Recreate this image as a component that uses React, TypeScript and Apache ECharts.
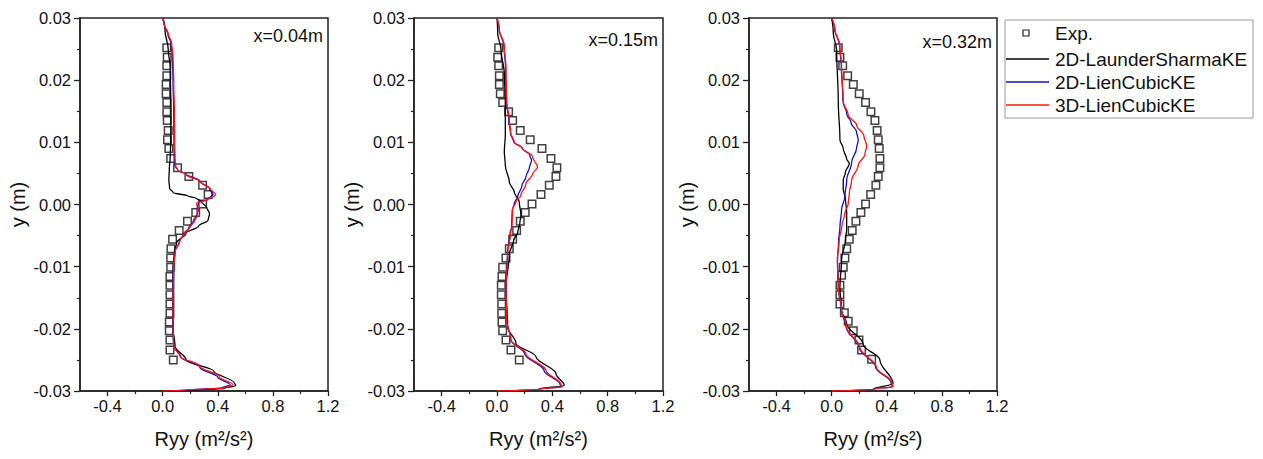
import React, { useEffect, useRef } from "react";
import * as echarts from "echarts";

// ---------- data (x = Ryy, y = y position) ----------
const panelLabels = ["x=0.04m", "x=0.15m", "x=0.32m"];
const seriesNames = ["Exp.", "2D-LaunderSharmaKE", "2D-LienCubicKE", "3D-LienCubicKE"];
const xMajorTicks = [-0.4, 0, 0.4, 0.8, 1.2];
const xMinorTicks = [-0.2, 0.2, 0.6, 1.0];

const exp1 = [
  [0.03, 0.0252], [0.033, 0.0237], [0.03, 0.0223], [0.03, 0.0207], [0.025, 0.0193], [0.025, 0.0178],
  [0.03, 0.0164], [0.03, 0.0149], [0.033, 0.0135], [0.04, 0.0119], [0.035, 0.0104], [0.045, 0.009],
  [0.058, 0.0074], [0.108, 0.0059], [0.19, 0.0045], [0.29, 0.0031], [0.33, 0.0016], [0.29, 0.0001],
  [0.24, -0.0013], [0.18, -0.0027], [0.12, -0.0042], [0.072, -0.0056], [0.06, -0.0071], [0.058, -0.0086],
  [0.058, -0.0101], [0.053, -0.0116], [0.053, -0.013], [0.053, -0.0145], [0.053, -0.016], [0.053, -0.0175],
  [0.048, -0.0189], [0.048, -0.0203], [0.053, -0.0218], [0.053, -0.0234], [0.077, -0.025],
];
const black1 = [
  [0.0, 0.03], [0.017, 0.028], [0.04, 0.025], [0.055, 0.022], [0.06, 0.015], [0.058, 0.01], [0.055, 0.0077],
  [0.048, 0.0056], [0.045, 0.004], [0.05, 0.0026], [0.077, 0.0019], [0.18, 0.0014], [0.245, 0.001],
  [0.28, 0.0005], [0.32, -0.0005], [0.34, -0.0015], [0.33, -0.0025], [0.26, -0.0035], [0.17, -0.0046],
  [0.1, -0.0062], [0.085, -0.0078], [0.075, -0.01], [0.072, -0.015], [0.075, -0.02], [0.09, -0.0228],
  [0.17, -0.025], [0.37, -0.0268], [0.52, -0.0287], [0.53, -0.0291], [0.45, -0.0296], [0.2, -0.0299], [0.0, -0.03],
];
const blue1 = [
  [0.0, 0.03], [0.012, 0.029], [0.04, 0.0272], [0.06, 0.026], [0.07, 0.024], [0.075, 0.02], [0.08, 0.015],
  [0.082, 0.01], [0.085, 0.0072], [0.09, 0.0062], [0.11, 0.0055], [0.17, 0.0049], [0.27, 0.0038],
  [0.34, 0.0025], [0.365, 0.0016], [0.33, 0.0009], [0.26, 0.0003], [0.25, -0.0006], [0.25, -0.0015],
  [0.22, -0.0028], [0.19, -0.0037], [0.15, -0.0048], [0.12, -0.006], [0.09, -0.0076], [0.078, -0.01],
  [0.073, -0.015], [0.073, -0.02], [0.08, -0.0228], [0.13, -0.0245], [0.27, -0.0262], [0.4, -0.0278],
  [0.49, -0.029], [0.43, -0.0295], [0.2, -0.0298], [0.0, -0.03],
];
const red1 = [
  [0.0, 0.03], [0.01, 0.029], [0.04, 0.0275], [0.065, 0.026], [0.075, 0.024], [0.08, 0.02], [0.085, 0.015],
  [0.088, 0.01], [0.09, 0.0072], [0.095, 0.0062], [0.11, 0.0055], [0.17, 0.0048], [0.27, 0.0037],
  [0.35, 0.0024], [0.385, 0.0016], [0.33, 0.0008], [0.245, 0.0002], [0.26, -0.0008], [0.25, -0.0018],
  [0.23, -0.0027], [0.2, -0.0036], [0.16, -0.0046], [0.125, -0.0059], [0.09, -0.0076], [0.08, -0.01],
  [0.075, -0.015], [0.075, -0.02], [0.08, -0.0228], [0.125, -0.0244], [0.27, -0.026], [0.41, -0.0277],
  [0.51, -0.029], [0.45, -0.0295], [0.2, -0.0298], [0.0, -0.03],
];

const exp2 = [
  [0.012, 0.0252], [0.005, 0.0237], [0.012, 0.0223], [0.017, 0.0207], [0.017, 0.0193], [0.024, 0.0178],
  [0.041, 0.0164], [0.084, 0.0149], [0.113, 0.0135], [0.168, 0.0119], [0.24, 0.0104], [0.325, 0.009],
  [0.39, 0.0074], [0.433, 0.0059], [0.426, 0.0045], [0.378, 0.0031], [0.318, 0.0016], [0.253, 0.0001],
  [0.204, -0.0013], [0.168, -0.0027], [0.142, -0.0042], [0.113, -0.0056], [0.089, -0.0071], [0.065, -0.0086],
  [0.041, -0.0101], [0.036, -0.0116], [0.031, -0.013], [0.031, -0.0145], [0.034, -0.016], [0.034, -0.0175],
  [0.036, -0.0189], [0.041, -0.0203], [0.065, -0.0218], [0.101, -0.0234], [0.161, -0.025],
];
const black2 = [
  [0.0, 0.03], [0.005, 0.0275], [0.029, 0.0249], [0.053, 0.021], [0.06, 0.0166], [0.06, 0.0112],
  [0.053, 0.0085], [0.06, 0.0063], [0.089, 0.0036], [0.125, 0.002], [0.161, 0.0004], [0.173, -0.0017],
  [0.165, -0.003], [0.15, -0.0045], [0.12, -0.0058], [0.089, -0.008], [0.065, -0.0133], [0.077, -0.0197],
  [0.137, -0.0223], [0.282, -0.0245], [0.426, -0.0272], [0.486, -0.0291], [0.3, -0.0297], [0.0, -0.03],
];
const blue2 = [
  [0.0, 0.03], [0.015, 0.0282], [0.05, 0.0255], [0.062, 0.022], [0.067, 0.0166], [0.085, 0.0136],
  [0.097, 0.0115], [0.12, 0.0101], [0.18, 0.0091], [0.235, 0.008], [0.25, 0.0071], [0.235, 0.006],
  [0.21, 0.0045], [0.18, 0.003], [0.15, 0.0013], [0.125, 0.0002], [0.11, -0.001], [0.105, -0.0037],
  [0.095, -0.0045], [0.075, -0.008], [0.065, -0.0133], [0.07, -0.0186], [0.1, -0.0218], [0.2, -0.024],
  [0.34, -0.0267], [0.455, -0.0289], [0.47, -0.0293], [0.3, -0.0297], [0.0, -0.03],
];
const red2 = [
  [0.0, 0.03], [0.017, 0.0282], [0.053, 0.0255], [0.065, 0.022], [0.07, 0.0166], [0.089, 0.0136],
  [0.1, 0.0115], [0.125, 0.01], [0.185, 0.009], [0.257, 0.0077], [0.293, 0.006], [0.257, 0.0049],
  [0.209, 0.0033], [0.173, 0.0015], [0.137, 0.0004], [0.113, -0.0007], [0.108, -0.0037], [0.1, -0.0043],
  [0.077, -0.008], [0.065, -0.0133], [0.07, -0.0186], [0.101, -0.0218], [0.209, -0.024], [0.354, -0.0267],
  [0.462, -0.0289], [0.474, -0.0293], [0.3, -0.0297], [0.0, -0.03],
];

const exp3 = [
  [0.048, 0.0252], [0.06, 0.0237], [0.08, 0.0223], [0.116, 0.0207], [0.157, 0.0193], [0.2, 0.0178],
  [0.246, 0.0164], [0.285, 0.0149], [0.314, 0.0135], [0.33, 0.0119], [0.338, 0.0104], [0.345, 0.009],
  [0.35, 0.0074], [0.35, 0.0059], [0.338, 0.0045], [0.321, 0.0031], [0.283, 0.0016], [0.246, 0.0001],
  [0.212, -0.0013], [0.176, -0.0027], [0.149, -0.0042], [0.128, -0.0056], [0.109, -0.0071], [0.096, -0.0086],
  [0.084, -0.0101], [0.072, -0.0114], [0.06, -0.013], [0.06, -0.0145], [0.06, -0.016], [0.092, -0.0174],
  [0.12, -0.0188], [0.157, -0.0203], [0.198, -0.0218], [0.217, -0.0234], [0.29, -0.0249],
];
const black3 = [
  [0.0, 0.03], [0.012, 0.0275], [0.036, 0.0249], [0.048, 0.0166], [0.06, 0.0104], [0.084, 0.009],
  [0.109, 0.0073], [0.128, 0.0066], [0.1, 0.0052], [0.084, 0.0039], [0.084, 0.0025], [0.1, 0.0009],
  [0.109, -0.0013], [0.109, -0.004], [0.1, -0.0057], [0.072, -0.0089], [0.06, -0.0133], [0.072, -0.017],
  [0.109, -0.0192], [0.229, -0.0225], [0.35, -0.025], [0.446, -0.0288], [0.3, -0.0297], [0.0, -0.03],
];
const blue3 = [
  [0.0, 0.03], [0.022, 0.0282], [0.058, 0.0255], [0.07, 0.0223], [0.082, 0.0166], [0.11, 0.0145],
  [0.14, 0.0132], [0.18, 0.0117], [0.193, 0.0104], [0.18, 0.009], [0.145, 0.0068], [0.109, 0.0039],
  [0.096, 0.0013], [0.072, -0.0008], [0.06, -0.0036], [0.05, -0.006], [0.042, -0.009], [0.048, -0.0133],
  [0.07, -0.017], [0.105, -0.0197], [0.2, -0.023], [0.32, -0.0262], [0.43, -0.0286], [0.44, -0.0293],
  [0.3, -0.0297], [0.0, -0.03],
];
const red3 = [
  [0.0, 0.03], [0.024, 0.0282], [0.06, 0.0255], [0.072, 0.0223], [0.084, 0.0166], [0.12, 0.0144],
  [0.181, 0.0128], [0.234, 0.011], [0.254, 0.0094], [0.241, 0.0081], [0.193, 0.0063], [0.145, 0.0039],
  [0.128, 0.0018], [0.12, 0.0001], [0.096, -0.0014], [0.075, -0.0033], [0.055, -0.0057], [0.042, -0.0089],
  [0.048, -0.0133], [0.072, -0.017], [0.109, -0.0197], [0.205, -0.023], [0.326, -0.0262], [0.435, -0.0286],
  [0.446, -0.0293], [0.3, -0.0297], [0.0, -0.03],
];

const panels = [
  { exp: exp1, black: black1, blue: blue1, red: red1 },
  { exp: exp2, black: black2, blue: blue2, red: red2 },
  { exp: exp3, black: black3, blue: blue3, red: red3 },
];

// ---------- layout ----------
const FONT = "'Liberation Sans', Arial, sans-serif";
const gridBoxes = [
  { left: 80, width: 248 },
  { left: 414, width: 249 },
  { left: 749, width: 248 },
];
const GRID_TOP = 18;
const GRID_H = 373;
const labelY = [38, 42, 44];
const lineColors = ["#000000", "#1212c4", "#ff1414"];

export default function App() {
  const ref = useRef<HTMLDivElement>(null);

  useEffect(() => {
    if (!ref.current) return;
    const chart = echarts.init(ref.current, null, { renderer: "svg" });

    const grid: any[] = [];
    const xAxis: any[] = [];
    const yAxis: any[] = [];
    const series: any[] = [];
    const graphic: any[] = [];

    gridBoxes.forEach((g, i) => {
      grid.push({
        left: g.left, top: GRID_TOP, width: g.width, height: GRID_H,
        show: true, borderColor: "#222", borderWidth: 1.5, backgroundColor: "transparent",
      });
      xAxis.push({
        type: "value", gridIndex: i, min: -0.6, max: 1.2, position: "bottom",
        name: "Ryy (m²/s²)", nameLocation: "middle", nameGap: 38,
        nameTextStyle: { fontFamily: FONT, fontSize: 20, color: "#111" },
        axisLine: { show: true, onZero: false, lineStyle: { color: "#222", width: 1.5 } },
        axisTick: { show: true, inside: false, length: 5, customValues: xMajorTicks, lineStyle: { color: "#222", width: 1.3 } },
        axisLabel: {
          show: true, customValues: xMajorTicks, margin: 6, fontFamily: FONT, fontSize: 16.5, color: "#111",
          formatter: (v: number) => (Math.abs(v) < 1e-9 ? "0.0" : v.toFixed(1)),
        },
        splitLine: { show: false },
      });
      xAxis.push({
        type: "value", gridIndex: i, min: -0.6, max: 1.2, position: "bottom",
        axisLine: { show: false, onZero: false },
        axisTick: { show: true, inside: false, length: 3, customValues: xMinorTicks, lineStyle: { color: "#222", width: 1.2 } },
        axisLabel: { show: false },
        splitLine: { show: false },
      });
      yAxis.push({
        type: "value", gridIndex: i, min: -0.03, max: 0.03, interval: 0.01,
        name: "y (m)", nameLocation: "middle", nameGap: 52,
        nameTextStyle: { fontFamily: FONT, fontSize: 20, color: "#111" },
        axisLine: { show: true, onZero: false, lineStyle: { color: "#222", width: 1.5 } },
        axisTick: { show: true, inside: false, length: 6, lineStyle: { color: "#222", width: 1.3 } },
        minorTick: { show: true, splitNumber: 2, length: 3, lineStyle: { color: "#222", width: 1.2 } },
        axisLabel: {
          margin: 9, fontFamily: FONT, fontSize: 16.5, color: "#111",
          formatter: (v: number) => (Math.abs(v) < 1e-9 ? "0.00" : v.toFixed(2)),
        },
        splitLine: { show: false },
        minorSplitLine: { show: false },
      });

      const p = panels[i];
      series.push({
        name: seriesNames[0], type: "scatter", xAxisIndex: i * 2, yAxisIndex: i,
        data: p.exp, symbol: "rect", symbolSize: 7.5, z: 2,
        itemStyle: { color: "rgba(0,0,0,0)", borderColor: "#111", borderWidth: 1.5 },
      });
      [p.black, p.blue, p.red].forEach((d, k) => {
        series.push({
          name: seriesNames[k + 1], type: "line", xAxisIndex: i * 2, yAxisIndex: i,
          data: d, symbol: "none", showSymbol: false, smooth: 0.35, smoothMonotone: "y",
          lineStyle: { color: lineColors[k], width: 1.3 }, z: 3 + k,
        });
      });

      graphic.push({
        type: "text", right: 1263 - (g.left + g.width) + 5, top: labelY[i] - 11,
        style: { text: panelLabels[i], fontFamily: FONT, fontSize: 18, fill: "#111" },
      });
    });

    // legend box
    const LX = 1005, LY = 20, LW = 248, LH = 98;
    const rowY = [33, 59, 82, 105];
    graphic.push({
      type: "rect", shape: { x: LX, y: LY, width: LW, height: LH },
      style: { fill: "#fff", stroke: "#999", lineWidth: 1 }, z: 10,
    });
    graphic.push({
      type: "rect", shape: { x: 1023, y: rowY[0] - 3, width: 6, height: 6 },
      style: { fill: "none", stroke: "#222", lineWidth: 1.2 }, z: 11,
    });
    for (let k = 0; k < 3; k++) {
      graphic.push({
        type: "line", shape: { x1: 1006, y1: rowY[k + 1], x2: 1049, y2: rowY[k + 1] },
        style: { stroke: lineColors[k], lineWidth: 1.3 }, z: 11,
      });
    }
    seriesNames.forEach((n, k) => {
      graphic.push({
        type: "text", x: 1055, y: rowY[k], z: 11,
        style: { text: n, fontFamily: FONT, fontSize: 19, fill: "#111", verticalAlign: "middle", align: "left" },
      });
    });

    chart.setOption({
      animation: false,
      backgroundColor: "#fff",
      grid, xAxis, yAxis, series, graphic,
    });
    return () => chart.dispose();
  }, []);

  return (
    <div
      ref={ref}
      style={{ position: "absolute", left: 0, top: 0, width: 1263, height: 459 }}
    />
  );
}
